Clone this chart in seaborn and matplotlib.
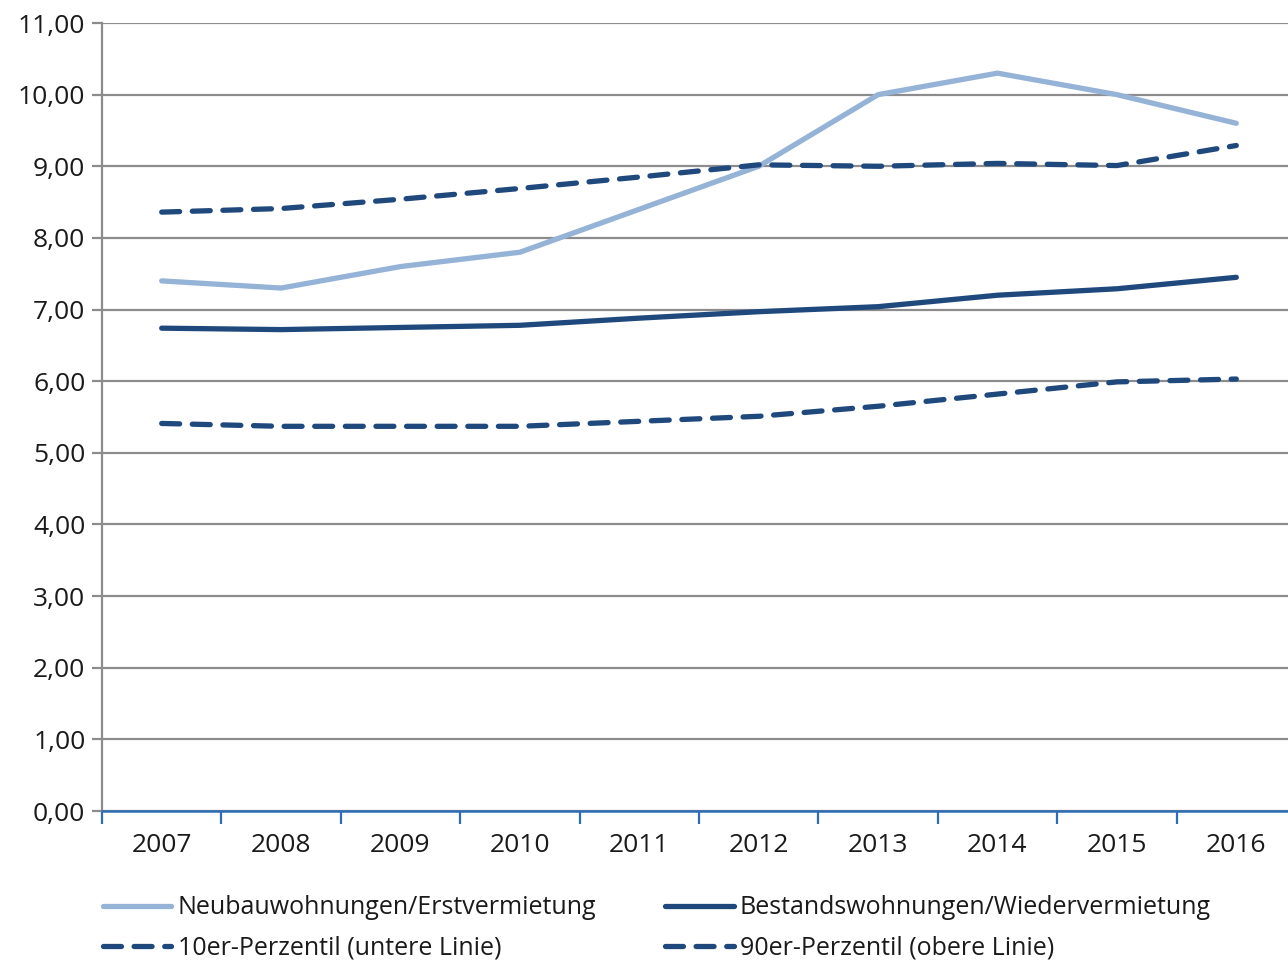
import numpy as np
import pandas as pd
import matplotlib.pyplot as plt
import seaborn as sns
from matplotlib.ticker import FixedLocator, FuncFormatter

# Werte
jahre = ['2007', '2008', '2009', '2010', '2011', '2012', '2013', '2014', '2015', '2016']
neubau = [7.40, 7.30, 7.60, 7.80, 8.40, 9.00, 10.00, 10.30, 10.00, 9.60]
bestand = [6.74, 6.72, 6.75, 6.78, 6.88, 6.97, 7.04, 7.20, 7.29, 7.45]
perz10 = [5.41, 5.37, 5.37, 5.37, 5.44, 5.51, 5.65, 5.82, 5.99, 6.03]
perz90 = [8.36, 8.41, 8.54, 8.69, 8.85, 9.02, 9.00, 9.04, 9.01, 9.29]

hell = '#95B3D7'
dunkel = '#1F497D'

sns.set_theme(style='white')
plt.rcParams['font.family'] = ['Open Sans', 'DejaVu Sans']

fig = plt.figure(figsize=(12.88, 9.61), dpi=100)
ax = fig.add_axes([102 / 1288, 150 / 961, 1194 / 1288, 788 / 961])

x = np.arange(len(jahre))
serien = [
    ('Neubauwohnungen/Erstvermietung', neubau, hell, False),
    ('Bestandswohnungen/Wiedervermietung', bestand, dunkel, False),
    ('10er-Perzentil (untere Linie)', perz10, dunkel, True),
    ('90er-Perzentil (obere Linie)', perz90, dunkel, True),
]
for name, werte, farbe, gestrichelt in serien:
    sns.lineplot(x=x, y=werte, ax=ax, color=farbe, linewidth=3.8, label=name,
                 solid_capstyle='round', dash_capstyle='round')
    if gestrichelt:
        ax.lines[-1].set_dashes((3.4, 2.4))

ax.set_xlim(-0.5, len(jahre) - 0.5)
ax.set_ylim(0, 11)
ax.set_yticks(np.arange(0, 12, 1))
ax.yaxis.set_major_formatter(FuncFormatter(lambda v, p: f'{v:.2f}'.replace('.', ',')))
ax.set_xticks(x)
ax.set_xticklabels(jahre)
ax.xaxis.set_minor_locator(FixedLocator(np.arange(-0.5, len(jahre), 1)))

ax.grid(axis='y', color='#8C8C8C', linewidth=1.6)
ax.set_axisbelow(True)
for s in ['top', 'right']:
    ax.spines[s].set_visible(False)
ax.spines['left'].set_color('#8C8C8C')
ax.spines['left'].set_linewidth(1.6)
ax.spines['bottom'].set_color('#2E6DB4')
ax.spines['bottom'].set_linewidth(1.8)
ax.spines['bottom'].set_zorder(5)

ax.tick_params(axis='y', which='major', left=True, length=7, width=1.6, color='#8C8C8C',
               labelsize=19, labelcolor='#1a1a1a', pad=5)
ax.tick_params(axis='x', which='major', bottom=False, labelsize=19, labelcolor='#1a1a1a', pad=10)
ax.tick_params(axis='x', which='minor', bottom=True, length=9, width=1.6, color='#2E6DB4',
               direction='out')

ax.get_legend().remove()
handles, labels = ax.get_legend_handles_labels()
# Legende zeilenweise: Neubau, Bestand / 10er, 90er
reihenfolge = [0, 2, 1, 3]
fig.legend([handles[i] for i in reihenfolge], [labels[i] for i in reihenfolge], ncol=2,
           loc='upper left', bbox_to_anchor=(80 / 1288, 1 - 873 / 961),
           frameon=False, fontsize=18, handlelength=2.75, handletextpad=0.25,
           columnspacing=2.75, labelspacing=0.6, labelcolor='#1a1a1a')

fig.savefig('out.png', dpi=100)
